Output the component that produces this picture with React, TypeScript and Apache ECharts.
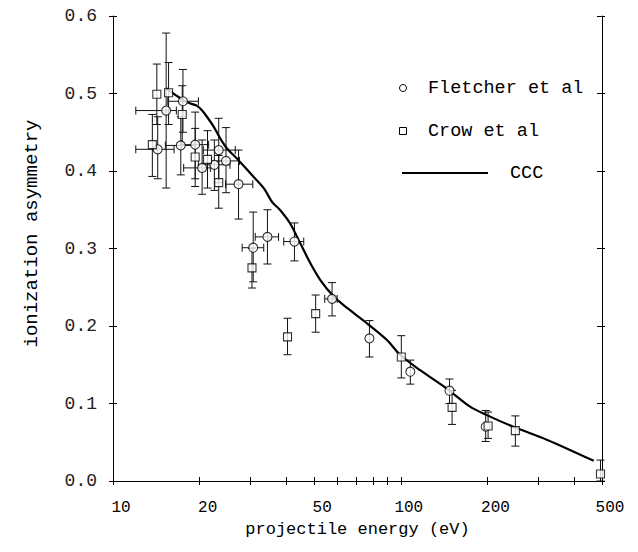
import React, { useEffect, useRef } from 'react';
import * as echarts from 'echarts';

// Fletcher et al (circles)
const fletcherX = [14.3, 15.3, 17.5, 17.2, 19.3, 20.4, 22.5, 23.3, 24.7, 27.3, 30.7, 34.4, 42.7, 57.7, 77.8, 107.9, 147.6, 197.2];
const fletcherY = [0.428, 0.478, 0.490, 0.433, 0.434, 0.404, 0.408, 0.427, 0.413, 0.383, 0.301, 0.315, 0.309, 0.235, 0.184, 0.141, 0.1165, 0.070];
const fletcherYLow = [0.39, 0.378, 0.45, 0.395, 0.39, 0.37, 0.375, 0.385, 0.372, 0.338, 0.257, 0.28, 0.284, 0.213, 0.16, 0.125, 0.1, 0.051];
const fletcherYHigh = [0.47, 0.578, 0.531, 0.47, 0.476, 0.44, 0.44, 0.468, 0.456, 0.427, 0.347, 0.35, 0.333, 0.256, 0.207, 0.156, 0.1316, 0.091];
const fletcherXLow = [12.0, 12.0, 15.5, 15.2, 17.3, 17.6, 19.8, 20.6, 22.0, 24.6, 28.1, 31.2, 39.2, 54.4, null, null, null, null];
const fletcherXHigh = [16.3, 16.6, 19.8, 19.3, 21.5, 21.8, 25.5, 26.6, 27.5, 30.6, 33.4, 37.6, 46.0, 60.1, null, null, null, null];

// Crow et al (squares)
const crowX = [13.7, 14.2, 15.6, 17.4, 19.3, 21.3, 23.3, 30.4, 40.4, 50.6, 100.4, 150.7, 201, 250, 494];
const crowY = [0.434, 0.499, 0.501, 0.473, 0.418, 0.415, 0.385, 0.275, 0.186, 0.216, 0.160, 0.095, 0.071, 0.065, 0.009];
const crowYLow = [0.393, 0.46, 0.46, 0.433, 0.38, 0.378, 0.352, 0.249, 0.163, 0.192, 0.133, 0.073, 0.055, 0.045, 0.0];
const crowYHigh = [0.473, 0.538, 0.54, 0.51, 0.455, 0.452, 0.42, 0.30, 0.21, 0.24, 0.1875, 0.117, 0.089, 0.084, 0.027];

// CCC theory curve
const cccX = [15.3, 16.5, 17.6, 18.6, 19.6, 20.4, 21.2, 22.4, 23.5, 24.9, 27.3, 30.0, 33.4, 35.7, 38.0, 41.3, 44.7, 48.5, 52.6, 58.5, 65.2, 76.3, 89.5, 99.6, 116.7, 144, 174, 199, 246, 323, 468];
const cccY = [0.507, 0.498, 0.491, 0.487, 0.484, 0.478, 0.470, 0.457, 0.443, 0.429, 0.414, 0.397, 0.378, 0.360, 0.350, 0.332, 0.307, 0.281, 0.259, 0.238, 0.223, 0.2035, 0.182, 0.1626, 0.143, 0.1196, 0.0959, 0.085, 0.070, 0.053, 0.026];

const xLabelValues = [10, 20, 50, 100, 200, 500];
const xTickValues = [10, 20, 30, 40, 50, 60, 70, 80, 90, 100, 200, 300, 400, 500];

const FONT = "'Liberation Mono', 'DejaVu Sans Mono', monospace";

function errRender(params: any, api: any) {
  const x = api.value(0);
  const ylo = api.value(2);
  const yhi = api.value(3);
  const xlo = api.value(4);
  const xhi = api.value(5);
  const y = api.value(1);
  const style = { stroke: '#111', lineWidth: 1, fill: 'none' };
  const children: any[] = [];
  const cap = 4;
  if (!isNaN(ylo) && !isNaN(yhi)) {
    const a = api.coord([x, ylo]);
    const b = api.coord([x, yhi]);
    children.push({ type: 'line', shape: { x1: a[0], y1: a[1], x2: b[0], y2: b[1] }, style });
    children.push({ type: 'line', shape: { x1: a[0] - cap, y1: a[1], x2: a[0] + cap, y2: a[1] }, style });
    children.push({ type: 'line', shape: { x1: b[0] - cap, y1: b[1], x2: b[0] + cap, y2: b[1] }, style });
  }
  if (!isNaN(xlo) && !isNaN(xhi)) {
    const a = api.coord([xlo, y]);
    const b = api.coord([xhi, y]);
    children.push({ type: 'line', shape: { x1: a[0], y1: a[1], x2: b[0], y2: b[1] }, style });
    children.push({ type: 'line', shape: { x1: a[0], y1: a[1] - cap, x2: a[0], y2: a[1] + cap }, style });
    children.push({ type: 'line', shape: { x1: b[0], y1: b[1] - cap, x2: b[0], y2: b[1] + cap }, style });
  }
  return { type: 'group', children };
}

export default function App() {
  const ref = useRef<HTMLDivElement>(null);
  useEffect(() => {
    if (!ref.current) return;
    const chart = echarts.init(ref.current, null, { renderer: 'svg' });

    const fletcherErr = fletcherX.map((x, i) => [x, fletcherY[i], fletcherYLow[i], fletcherYHigh[i], fletcherXLow[i] ?? '-', fletcherXHigh[i] ?? '-']);
    const crowErr = crowX.map((x, i) => [x, crowY[i], crowYLow[i], crowYHigh[i], '-', '-']);

    const baseX = { type: 'log', logBase: 10, min: 10, max: 500, gridIndex: 0, splitLine: { show: false } };
    const baseY = { type: 'value', min: 0, max: 0.6, interval: 0.1, gridIndex: 0, splitLine: { show: false } };
    const lineStyle = { color: '#000', width: 1 };
    const noLabel = { show: false };

    const option: any = {
      animation: false,
      backgroundColor: '#fff',
      grid: { left: 113, right: 36, top: 16, bottom: 71 },
      xAxis: [
        {
          ...baseX, position: 'bottom',
          axisLine: { show: true, lineStyle },
          axisTick: { show: true, inside: false, length: 4, lineStyle, customValues: xTickValues },
          axisLabel: { show: true, customValues: xLabelValues, margin: 19, fontFamily: FONT, fontSize: 16, color: '#000', padding: [0, 0, 0, 16], formatter: (v: number) => String(Math.round(v)) },
          name: 'projectile energy (eV)', nameLocation: 'middle', nameGap: 35,
          nameTextStyle: { fontFamily: FONT, fontSize: 17, color: '#000' },
        },
        { ...baseX, position: 'bottom', axisLine: { show: false }, axisTick: { show: true, inside: true, length: 4, lineStyle, customValues: xTickValues }, axisLabel: noLabel },
        { ...baseX, position: 'top', axisLine: { show: true, lineStyle }, axisTick: { show: true, inside: false, length: 3, lineStyle, customValues: xTickValues }, axisLabel: noLabel },
        { ...baseX, position: 'top', axisLine: { show: false }, axisTick: { show: true, inside: true, length: 4, lineStyle, customValues: xTickValues }, axisLabel: noLabel },
      ],
      yAxis: [
        {
          ...baseY, position: 'left',
          axisLine: { show: true, lineStyle },
          axisTick: { show: true, inside: false, length: 4, lineStyle },
          axisLabel: { show: true, margin: 16, fontFamily: FONT, fontSize: 18, color: '#222', formatter: (v: number) => v.toFixed(1) },
          name: 'ionization asymmetry', nameLocation: 'middle', nameGap: 72,
          nameTextStyle: { fontFamily: FONT, fontSize: 19, color: '#000', padding: [0, 0, 0, 30] },
        },
        { ...baseY, position: 'left', axisLine: { show: false }, axisTick: { show: true, inside: true, length: 4, lineStyle }, axisLabel: noLabel },
        { ...baseY, position: 'right', axisLine: { show: true, lineStyle }, axisTick: { show: true, inside: false, length: 3, lineStyle }, axisLabel: noLabel },
        { ...baseY, position: 'right', axisLine: { show: false }, axisTick: { show: true, inside: true, length: 5, lineStyle }, axisLabel: noLabel },
      ],
      series: [
        {
          name: 'Fletcher errors', type: 'custom', xAxisIndex: 0, yAxisIndex: 0,
          renderItem: errRender, data: fletcherErr, encode: { x: 0, y: 1 }, z: 2, silent: true,
        },
        {
          name: 'Crow errors', type: 'custom', xAxisIndex: 0, yAxisIndex: 0,
          renderItem: errRender, data: crowErr, encode: { x: 0, y: 1 }, z: 2, silent: true,
        },
        {
          name: 'CCC', type: 'line', xAxisIndex: 0, yAxisIndex: 0,
          data: cccX.map((x, i) => [x, cccY[i]]), showSymbol: false, smooth: 0.3,
          lineStyle: { color: '#000', width: 2.2 }, z: 3,
        },
        {
          name: 'Fletcher et al', type: 'scatter', xAxisIndex: 0, yAxisIndex: 0,
          data: fletcherX.map((x, i) => [x, fletcherY[i]]), symbol: 'circle', symbolSize: 9,
          itemStyle: { color: '#fff', borderColor: '#000', borderWidth: 1.1 }, z: 4,
        },
        {
          name: 'Crow et al', type: 'scatter', xAxisIndex: 0, yAxisIndex: 0,
          data: crowX.map((x, i) => [x, crowY[i]]), symbol: 'rect', symbolSize: 8,
          itemStyle: { color: '#fff', borderColor: '#000', borderWidth: 1.1 }, z: 4,
        },
      ],
      graphic: [
        { type: 'circle', shape: { cx: 403, cy: 88, r: 3.5 }, style: { fill: '#fff', stroke: '#000', lineWidth: 1 } },
        { type: 'text', x: 428, y: 88, style: { text: 'Fletcher et al', fontFamily: FONT, fontSize: 18.5, fill: '#000', verticalAlign: 'middle' } },
        { type: 'rect', shape: { x: 399.5, y: 127.5, width: 7, height: 7 }, style: { fill: '#fff', stroke: '#000', lineWidth: 1 } },
        { type: 'text', x: 428, y: 131, style: { text: 'Crow et al', fontFamily: FONT, fontSize: 18.5, fill: '#000', verticalAlign: 'middle' } },
        { type: 'line', shape: { x1: 402, y1: 173, x2: 488, y2: 173 }, style: { stroke: '#000', lineWidth: 2 } },
        { type: 'text', x: 510, y: 173, style: { text: 'CCC', fontFamily: FONT, fontSize: 18.5, fill: '#000', verticalAlign: 'middle' } },
      ],
    };
    chart.setOption(option);
    return () => chart.dispose();
  }, []);
  return <div ref={ref} style={{ position: 'absolute', left: 0, top: 0, width: 638, height: 552, background: '#fff' }} />;
}
